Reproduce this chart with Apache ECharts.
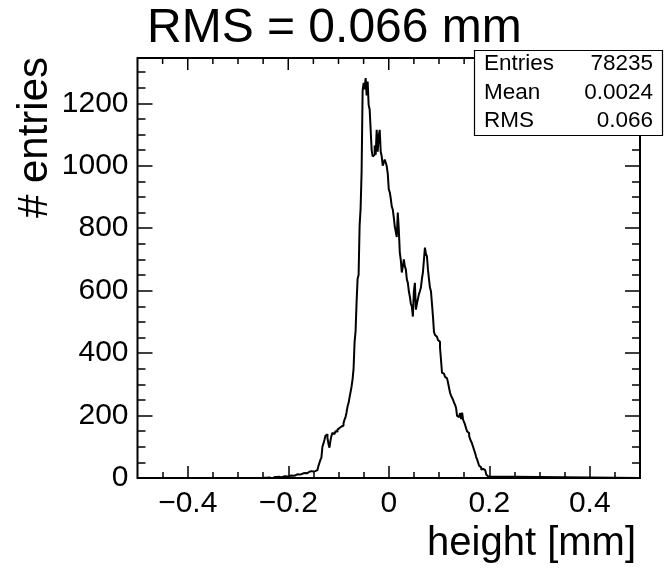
<!DOCTYPE html>
<html>
<head>
<meta charset="utf-8">
<script src="https://cdn.jsdelivr.net/npm/echarts@6/dist/echarts.min.js"></script>
<style>
  html, body { margin: 0; padding: 0; background: #fff; }
  #chart { width: 665px; height: 574px; }
</style>
</head>
<body>
<div id="chart"></div>
<script>
// ROOT-style histogram: height residuals, 0.002 mm bins from -0.5 to 0.5
const FONT = '"Liberation Sans", Arial, sans-serif';

const binWidth = 0.002;
const firstEdge = -0.25;   // left edge of the first listed bin; bins outside are empty
const counts = [
  0, 1, 0, 1, 1, 2, 1, 0, 2, 1, 2, 3, 2,
  3, 2, 4, 3, 2, 5, 4, 3, 6, 4, 5, 7, 6,
  6, 8, 5, 7, 9, 8, 10, 12, 9, 11, 13, 12, 15,
  15, 14, 16, 18, 15, 17, 20, 18, 22, 19, 21, 24, 22, 25,
  25, 30, 38, 48, 58, 65, 100, 110, 122,
  135, 140, 128, 110, 97, 120, 135, 145, 140,
  145, 150, 148, 155, 160, 158, 165, 170, 168, 175, 187, 195, 210, 229, 240, 258, 275, 293,
  316, 350, 435, 470, 564, 638, 650, 808, 863, 982,
  1240, 1265, 1245, 1281, 1225, 1270, 1195, 1180, 1115, 1050,
  1030, 1035, 1065, 1035, 1115, 1045, 1095, 1115, 1045, 1030,
  1000, 1010, 1020, 1010, 998, 975, 925, 915, 895, 870,
  860, 835, 805, 788, 772, 850, 795, 722, 698, 658,
  678, 700, 678, 668, 636, 625, 598, 581, 558, 549,
  517, 598, 625, 539, 558, 573, 588, 598, 610, 638,
  658, 698, 738, 718, 710, 668, 638, 610, 598, 558,
  517, 468, 458, 452, 448, 442, 436, 418, 378, 337,
  334, 329, 324, 319, 315, 305, 289, 273, 264, 257,
  250, 241, 234, 224, 199, 195, 199, 208, 189, 209,
  186, 179, 170, 159, 149, 144, 134, 124, 117, 109,
  99, 89, 79, 67, 59, 49, 39, 34, 27, 29,
  34, 25, 19, 11, 5, 2, 0
];

const xMin = -0.5, xMax = 0.5;
const yMin = 0, yMax = 1345;
const xMajorTicks = [-0.4, -0.2, 0, 0.2, 0.4];
const xMinorTicks = [-0.45, -0.35, -0.3, -0.25, -0.15, -0.1, -0.05, 0.05, 0.1, 0.15, 0.25, 0.3, 0.35, 0.45];
const yMajorTicks = [0, 200, 400, 600, 800, 1000, 1200];
const yMinorTicks = [50, 100, 150, 250, 300, 350, 450, 500, 550, 650, 700, 750, 850, 900, 950,
  1050, 1100, 1150, 1250, 1300];

const statsLabels = ['Entries', 'Mean', 'RMS'];
const statsValues = ['78235', '0.0024', '0.066'];

// step outline: one point per bin left edge, padded with empty range on both sides
const outline = [[xMin, 0]];
counts.forEach((c, i) => outline.push([+(firstEdge + i * binWidth).toFixed(4), c]));
outline.push([xMax, 0]);

const minus = v => String(v).replace('-', '\u2212');

const MAJOR_LEN = 12, MINOR_LEN = 6;

function tickAxis(base, pos, values, len, withLabel) {
  return Object.assign({
    type: 'value', position: pos,
    axisLine: { show: false, onZero: false },
    axisTick: { show: true, inside: true, length: len, customValues: values,
      lineStyle: { color: '#000', width: 1.5 } },
    axisLabel: { show: false },
    splitLine: { show: false },
  }, base, withLabel ? {
    axisLabel: { show: true, customValues: values, color: '#000', fontSize: 30,
      fontFamily: FONT, formatter: minus, margin: pos === 'bottom' ? 11 : 9 },
  } : {});
}

const chart = echarts.init(document.getElementById('chart'));
const xb = { min: xMin, max: xMax };
const yb = { min: yMin, max: yMax };

// ticks hanging from the top frame, placed through the x scale
const topTickData = xMajorTicks.map(v => [v, MAJOR_LEN]).concat(xMinorTicks.map(v => [v, MINOR_LEN]));

const statsRows = [64, 93, 121];
const statsGraphics = [{
  type: 'rect', shape: { x: 474.5, y: 50.5, width: 188, height: 85 },
  style: { fill: '#fff', stroke: '#000', lineWidth: 1.2 }, z: 100,
}];
statsLabels.forEach((t, i) => {
  statsGraphics.push({ type: 'text', x: 484, y: statsRows[i], z: 101,
    style: { text: t, fill: '#000', font: '22.5px ' + FONT, textAlign: 'left', textVerticalAlign: 'middle' } });
  statsGraphics.push({ type: 'text', x: 653, y: statsRows[i], z: 101,
    style: { text: statsValues[i], fill: '#000', font: '22.5px ' + FONT, textAlign: 'right', textVerticalAlign: 'middle' } });
});

chart.setOption({
  animation: false,
  backgroundColor: '#fff',
  grid: { left: 137.5, right: 25, top: 58, bottom: 96, show: true,
    borderColor: '#000', borderWidth: 2, backgroundColor: 'transparent' },
  xAxis: [
    tickAxis(xb, 'bottom', xMajorTicks, MAJOR_LEN, true),
    tickAxis(xb, 'bottom', xMinorTicks, MINOR_LEN, false),
  ],
  yAxis: [
    tickAxis(yb, 'left', yMajorTicks, 15, true),
    tickAxis(yb, 'left', yMinorTicks, 8, false),
    tickAxis(yb, 'right', yMajorTicks, 15, false),
    tickAxis(yb, 'right', yMinorTicks, 8, false),
  ],
  series: [{
    type: 'line', step: 'end', data: outline,
    xAxisIndex: 0, yAxisIndex: 0,
    showSymbol: false, symbol: 'none', clip: true,
    lineStyle: { color: '#000', width: 2 },
  }, {
    type: 'custom', data: topTickData, silent: true, clip: false, z: 20,
    xAxisIndex: 0, yAxisIndex: 0,
    renderItem(params, api) {
      const p = api.coord([api.value(0), yMax]);
      return {
        type: 'line',
        shape: { x1: p[0], y1: p[1], x2: p[0], y2: p[1] + api.value(1) },
        style: { stroke: '#000', lineWidth: 1.5, fill: null },
      };
    },
  }],
  graphic: [
    { type: 'text', x: 147, y: 29, z: 1,
      style: { text: 'RMS = 0.066 mm', fill: '#000', font: '48px ' + FONT, textAlign: 'left', textVerticalAlign: 'middle' } },
    { type: 'text', x: 35, y: 57, rotation: Math.PI / 2,
      style: { text: '# entries', fill: '#000', font: '42px ' + FONT, textAlign: 'right', textVerticalAlign: 'middle' } },
    { type: 'text', x: 636, y: 544,
      style: { text: 'height [mm]', fill: '#000', font: '40px ' + FONT, textAlign: 'right', textVerticalAlign: 'middle' } },
    ...statsGraphics,
  ],
});
</script>
</body>
</html>
